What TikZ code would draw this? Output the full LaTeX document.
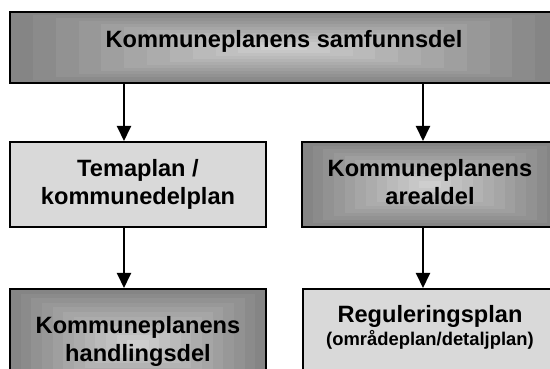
\documentclass[tikz,border=0pt]{standalone}
\usepackage{fontspec}
\setmainfont{Liberation Sans}
\usetikzlibrary{arrows.meta,calc}

\tikzset{
  plan/.style={draw, line width=2pt, inner sep=0pt, align=center,
    font=\fontsize{23.6}{28.5}\selectfont\bfseries, text depth=5pt},
  flatplan/.style={plan, fill=black!15},
  shadeplan/.style={plan, path picture={
    \foreach \i [evaluate=\i as \c using 48-2.6*\i] in {0,...,11}
      \fill[black!\c] ($(path picture bounding box.south west)!\i/24!(path picture bounding box.north east)$)
        rectangle ($(path picture bounding box.north east)!\i/24!(path picture bounding box.south west)$);
  }},
  lbl/.style={inner sep=0pt, align=center, font=\fontsize{23.6}{28.5}\selectfont\bfseries},
  arr/.style={line width=2pt, -{Triangle[length=15pt,width=14pt]}}
}

\begin{document}
\begin{tikzpicture}[x=1pt,y=1pt]
    \useasboundingbox (0,0) rectangle (550,369);
    \clip (0,0) rectangle (550,369);

    % Plan levels
    \node[shadeplan, text depth=17pt, minimum width=548pt, minimum height=71pt] (samf) at (284,321.5) {Kommuneplanens samfunnsdel};
    \node[flatplan, minimum width=256pt, minimum height=85pt] (tema) at (138,184.5) {Temaplan /\\kommunedelplan};
    \node[shadeplan, minimum width=256pt, minimum height=85pt] (areal) at (430,184.5) {Kommuneplanens\\arealdel};
    \node[shadeplan, minimum width=256pt, minimum height=111pt] (handl) at (138,24.5) {};
    \node[flatplan, minimum width=256pt, minimum height=111pt] (reg) at (431,24.5) {};

    % Text of the lower boxes
    \node[lbl, anchor=north] (handltxt) at (138,53.2) {Kommuneplanens\\handlingsdel};
    \node[lbl, anchor=north] (regtxt) at (430,64.2) {Reguleringsplan\\[-5pt]{\fontsize{18.4}{22}\selectfont(områdeplan/detaljplan)}};

    % Arrows
    \draw[arr] ([xshift=-14pt]tema.north |- samf.south) -- ([xshift=-14pt]tema.north);
    \draw[arr] ([xshift=-7pt]areal.north |- samf.south) -- ([xshift=-7pt]areal.north);
    \draw[arr] ([xshift=-14pt]tema.south) -- ([xshift=-14pt]handl.north);
    \draw[arr] ([xshift=-7pt]areal.south) -- ([xshift=-8pt]reg.north);

\end{tikzpicture}
\end{document}
